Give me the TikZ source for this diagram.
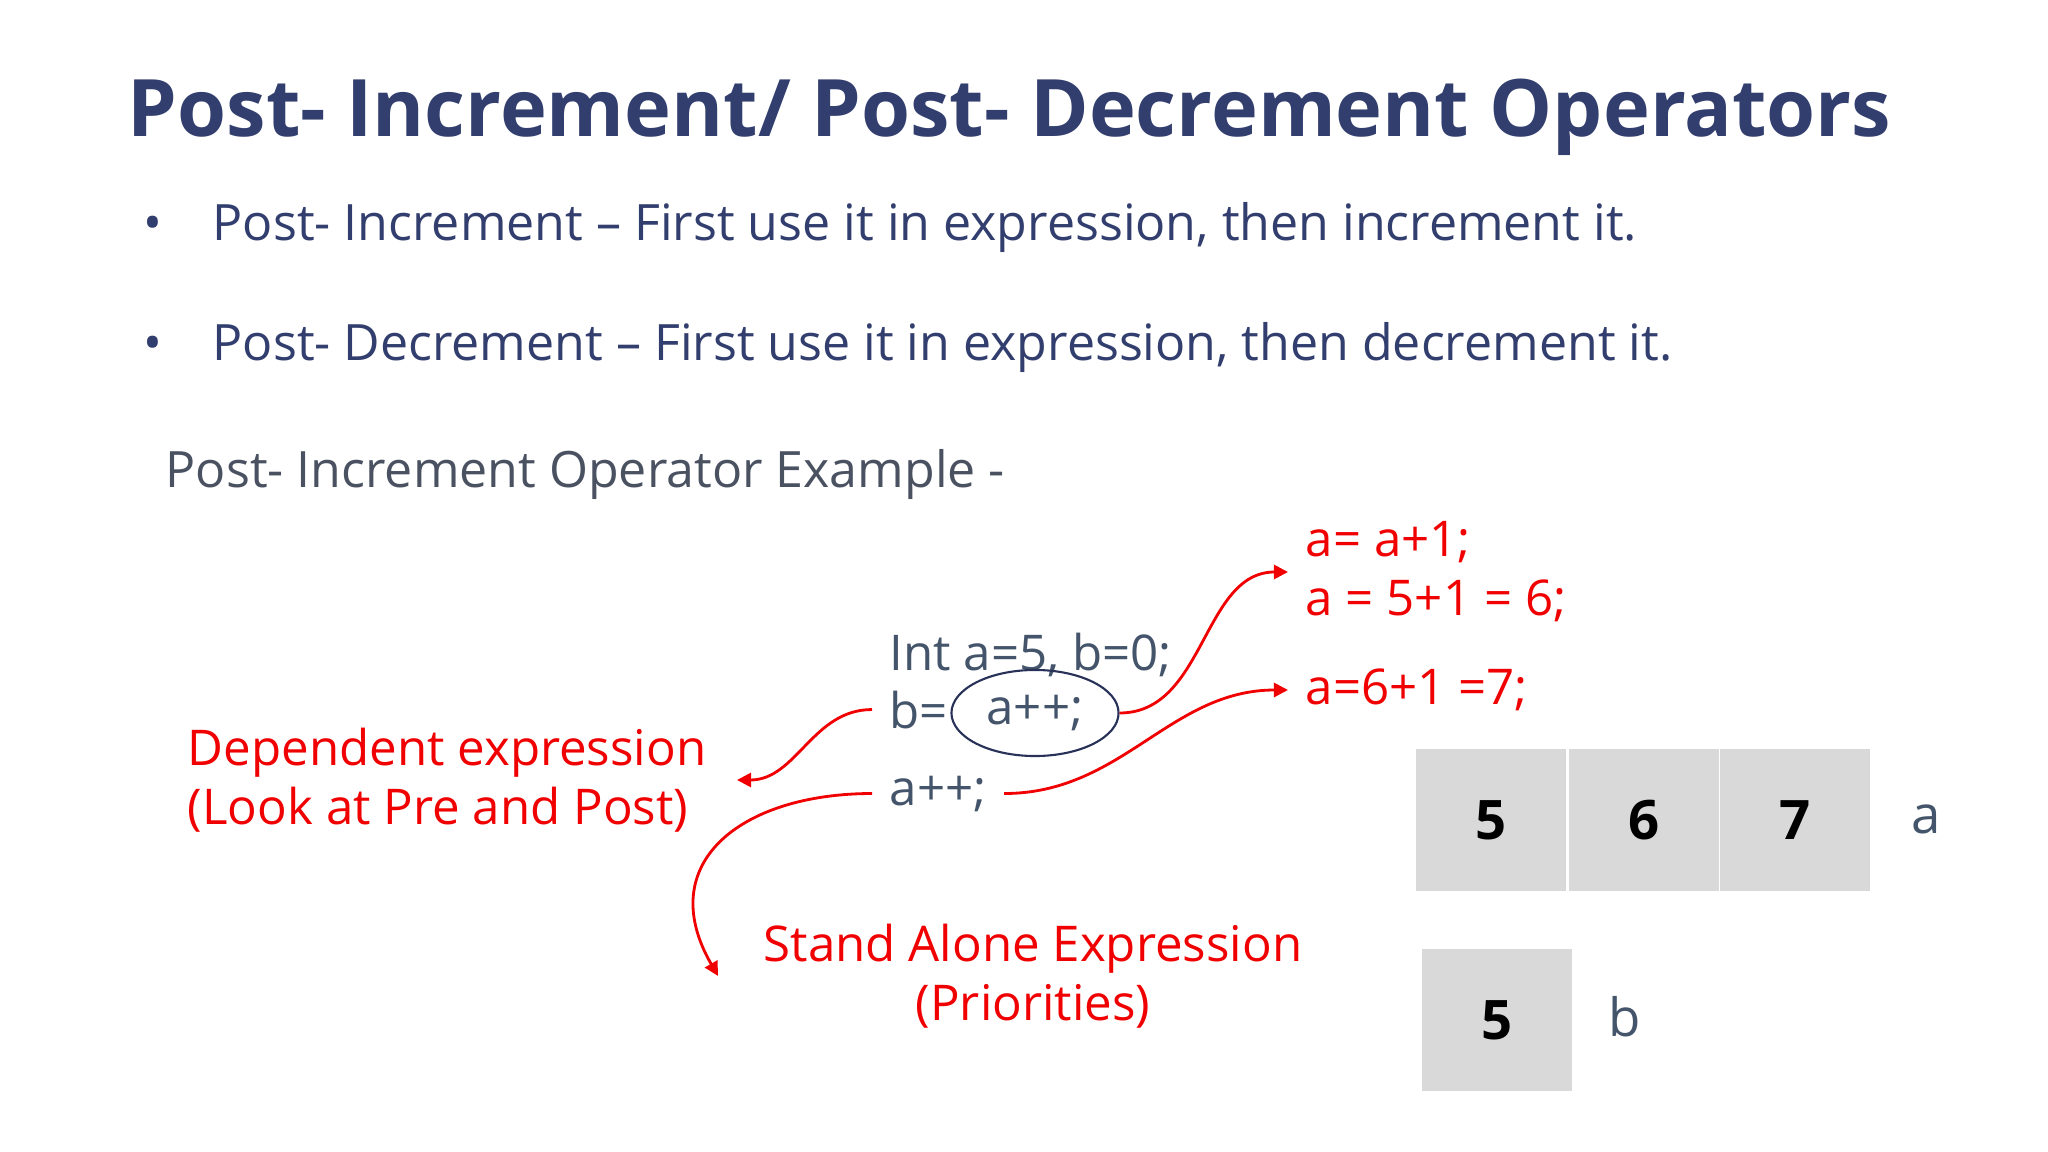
\documentclass[tikz,border=0pt]{standalone}
\usepackage{fontspec}
\setmainfont{Open Sans}
\usetikzlibrary{arrows.meta,shapes.geometric}

\definecolor{titleblue}{HTML}{323E6E}
\definecolor{codegray}{HTML}{44546A}
\definecolor{subgray}{HTML}{4A5262}
\definecolor{notered}{HTML}{F00000}
\definecolor{cellgray}{HTML}{D9D9D9}

\begin{document}
\begin{tikzpicture}[
        x=0.01cm, y=-0.01cm,
        heading/.style={anchor=base west, inner sep=0pt, color=titleblue,
            font=\bfseries\fontsize{22.55pt}{27pt}\selectfont},
        point/.style={anchor=base west, inner sep=0pt, color=titleblue,
            font=\fontsize{14.25pt}{17pt}\selectfont},
        code/.style={anchor=base west, inner xsep=0.17cm, inner ysep=0pt, color=codegray,
            font=\fontsize{14pt}{16.8pt}\selectfont},
        note/.style={anchor=west, inner xsep=0.17cm, inner ysep=0pt, color=notered, align=left,
            font=\fontsize{14pt}{16.8pt}\selectfont},
        cell/.style={fill=cellgray, minimum width=1.49cm, minimum height=1.42cm,
            font=\bfseries\fontsize{15.5pt}{18pt}\selectfont},
        varname/.style={anchor=base west, inner sep=0pt, color=codegray,
            font=\fontsize{15pt}{18pt}\selectfont},
        redarrow/.style={notered, line width=0.8pt, -{Triangle[length=4pt,width=4pt]}},
    ]
    \fill[white] (0, 0) rectangle (2048, 1152);
    \useasboundingbox (0, 0) rectangle (2048, 1152);

    % title and bullets
    \node[heading] (title) at (127, 137) {Post- Increment/ Post- Decrement Operators};

    \node[point, anchor=base] (dot1) at (153, 241) {•};
    \node[point] (inc1) at (212, 241) {Post- Increment – First use it in expression, then increment it.};
    \node[point, anchor=base] (dot2) at (153, 361) {•};
    \node[point] (dec1) at (212, 361) {Post- Decrement – First use it in expression, then decrement it.};

    \node[point, color=subgray] (example) at (165, 488) {Post- Increment Operator Example -};

    % code lines
    \node[code] (decl) at (872, 670) {Int a=5, b=0;};
    \node[code] (bline) at (872, 728) {b=};
    \node[code, anchor=center, inner xsep=0pt, ellipse, draw=titleblue!80!black, line width=0.6pt,
        minimum width=1.67cm, minimum height=0.86cm] (ell) at (1035, 713) {a++;};
    \node[code] (inc) at (872, 805) {a++;};

    % red notes
    \node[note] (r1) at (1288, 572) {a= a+1;\\a = 5+1 = 6;};
    \node[note] (r2) at (1288, 690) {a=6+1 =7;};
    \node[note, anchor=east, inner xsep=0.3cm] (dep) at (737, 780)
        {Dependent expression\\(Look at Pre and Post)};
    \node[note, anchor=center, align=center] (stand) at (1033, 976)
        {Stand Alone Expression\\(Priorities)};

    \draw[redarrow] (bline.west) to[out=180, in=0] (dep.east);
    \draw[redarrow] (inc.west) to[out=180, in=120, looseness=1.4] ([xshift=-0.28cm]stand.west);
    \draw[redarrow] (ell.east) to[out=0, in=180] (r1.west);
    \draw[redarrow] (inc.east) to[out=0, in=180] (r2.west);

    % memory boxes
    \node[cell] (a1) at (1491, 820) {5};
    \node[cell] (a2) at (1644, 820) {6};
    \node[cell] (a3) at (1795, 820) {7};
    \node[varname] (aname) at (1911, 833) {a};

    \node[cell] (b1) at (1497, 1020) {5};
    \node[varname] (bname) at (1608, 1036) {b};
\end{tikzpicture}
\end{document}
